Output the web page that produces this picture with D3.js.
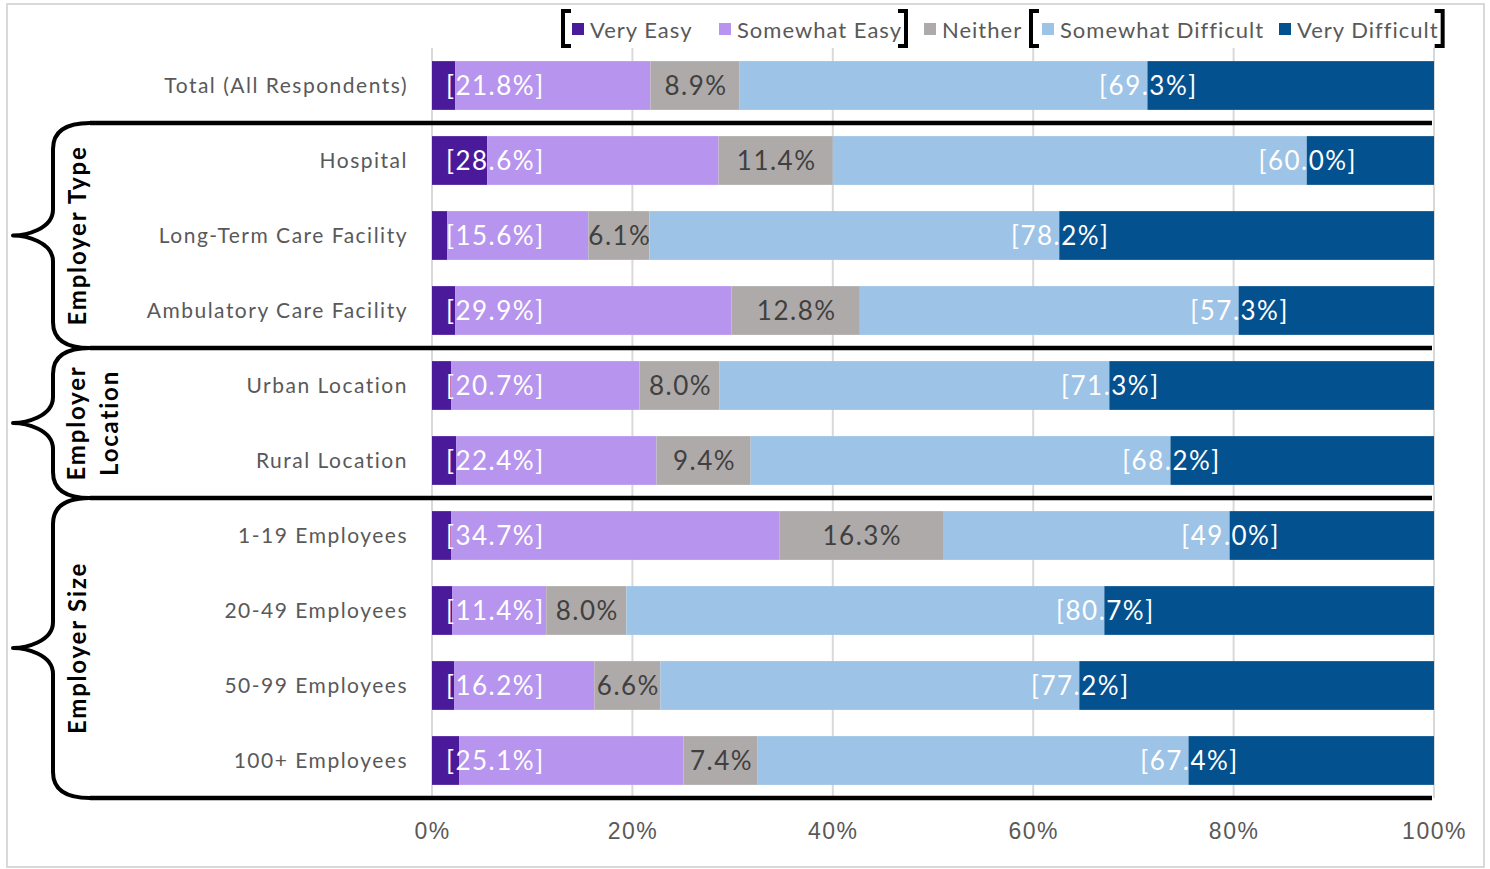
<!DOCTYPE html>
<html>
<head>
<meta charset="utf-8">
<script src="https://cdn.jsdelivr.net/npm/d3@7"></script>
<style>
  body { margin: 0; background: #fff; }
  svg { display: block; font-family: "Century Gothic", Lato, "Noto Sans", sans-serif; }
</style>
</head>
<body>
<svg id="chart" width="1490" height="869"></svg>
<script>
// categories, top to bottom
const categories = [
  "Total (All Respondents)",
  "Hospital", "Long-Term Care Facility", "Ambulatory Care Facility",
  "Urban Location", "Rural Location",
  "1-19 Employees", "20-49 Employees", "50-99 Employees", "100+ Employees"
]

const seriesNames = ["Very Easy", "Somewhat Easy", "Neither", "Somewhat Difficult", "Very Difficult"]
const seriesColors = ["#4b1a9b", "#b795ee", "#aeaaaa", "#9dc3e6", "#03518f"]

// segment values (%)
const veryEasy          = [2.3, 5.5, 1.5, 2.3, 1.9, 2.4, 1.9, 2.0, 2.2, 2.7]
const somewhatEasy      = [19.5, 23.1, 14.1, 27.6, 18.8, 20.0, 32.8, 9.4, 14.0, 22.4]
const neither           = [8.9, 11.4, 6.1, 12.8, 8.0, 9.4, 16.3, 8.0, 6.6, 7.4]
const somewhatDifficult = [40.7, 47.3, 40.9, 37.8, 38.9, 41.9, 28.6, 47.7, 41.8, 43.0]
const veryDifficult     = [28.6, 12.7, 37.4, 19.5, 32.4, 26.3, 20.4, 32.9, 35.4, 24.5]

// combined labels shown in brackets
const easyTotal      = [21.8, 28.6, 15.6, 29.9, 20.7, 22.4, 34.7, 11.4, 16.2, 25.1]
const difficultTotal = [69.3, 60.0, 78.2, 57.3, 71.3, 68.2, 49.0, 80.7, 77.2, 67.4]

const xTicks = [0, 20, 40, 60, 80, 100]

// brace groups
const groupNames   = [["Employer Type"], ["Employer", "Location"], ["Employer Size"]]
const groupFirst   = ["Hospital", "Urban Location", "1-19 Employees"]
const groupLast    = ["Ambulatory Care Facility", "Rural Location", "100+ Employees"]

const svg = d3.select("#chart")

// outer frame
svg.append("rect")
  .attr("x", 7).attr("y", 4).attr("width", 1477).attr("height", 863)
  .attr("fill", "none").attr("stroke", "#d9d9d9").attr("stroke-width", 2)

const x = d3.scaleLinear().domain([0, 100]).range([432, 1434])
const y = d3.scaleBand().domain(categories).range([48, 798])
  .paddingInner(0.35).paddingOuter(0.175)

const rows = categories.map((c, i) => ({
  cat: c,
  "Very Easy": veryEasy[i],
  "Somewhat Easy": somewhatEasy[i],
  "Neither": neither[i],
  "Somewhat Difficult": somewhatDifficult[i],
  "Very Difficult": veryDifficult[i]
}))
const stacked = d3.stack().keys(seriesNames)(rows)

// gridlines
svg.append("g").selectAll("line")
  .data(xTicks)
  .join("line")
    .attr("x1", d => x(d)).attr("x2", d => x(d))
    .attr("y1", 48).attr("y2", 798)
    .attr("stroke", "#d9d9d9").attr("stroke-width", 2)

// bars
svg.append("g").selectAll("g")
  .data(stacked)
  .join("g")
    .attr("fill", (d, i) => seriesColors[i])
  .selectAll("rect")
  .data(d => d)
  .join("rect")
    .attr("x", d => x(d[0]))
    .attr("width", d => x(d[1]) - x(d[0]))
    .attr("y", d => y(d.data.cat))
    .attr("height", y.bandwidth())

// bar labels
const lab = svg.append("g").attr("font-size", 26).attr("letter-spacing", 1.5)
const mid = c => y(c) + y.bandwidth() / 2 + 9

lab.selectAll("text.easy")
  .data(categories)
  .join("text").attr("class", "easy")
    .attr("x", 446).attr("y", mid)
    .attr("fill", "#fff")
    .text((c, i) => `[${easyTotal[i].toFixed(1)}%]`)

lab.selectAll("text.neither")
  .data(stacked[2])
  .join("text").attr("class", "neither")
    .attr("x", d => (x(d[0]) + x(d[1])) / 2 + 1)
    .attr("y", d => mid(d.data.cat))
    .attr("text-anchor", "middle")
    .attr("fill", "#404040")
    .text((d, i) => `${neither[i].toFixed(1)}%`)

lab.selectAll("text.diff")
  .data(stacked[3])
  .join("text").attr("class", "diff")
    .attr("x", d => x(d[1]) + 1)
    .attr("y", d => mid(d.data.cat))
    .attr("text-anchor", "middle")
    .attr("fill", "#fff")
    .text((d, i) => `[${difficultTotal[i].toFixed(1)}%]`)

// category labels
svg.append("g").selectAll("text")
  .data(categories)
  .join("text")
    .attr("x", 408).attr("y", c => y(c) + y.bandwidth() / 2 + 7)
    .attr("text-anchor", "end")
    .attr("font-size", 21).attr("fill", "#595959")
    .attr("letter-spacing", 1.5)
    .text(c => c)

// x axis
const xAxis = svg.append("g")
  .attr("transform", "translate(0,820)")
  .call(d3.axisBottom(x).tickValues(xTicks).tickSize(0).tickFormat(d => d + "%"))
xAxis.select(".domain").remove()
xAxis.selectAll("text")
  .attr("font-family", "inherit").attr("font-size", 23).attr("fill", "#595959")
  .attr("letter-spacing", 1.5)

// separators and braces
const step = y.step()
const gapHalf = (step - y.bandwidth()) / 2
const below = c => y(c) + y.bandwidth() + gapHalf
const above = c => y(c) - gapHalf

const seps = [below(categories[0])].concat(groupLast.map(below))
svg.append("g").selectAll("line")
  .data(seps)
  .join("line")
    .attr("x1", 90).attr("x2", 1432)
    .attr("y1", d => d).attr("y2", d => d)
    .attr("stroke", "#000").attr("stroke-width", 4.5)

const brace = (t, b) => {
  const m = (t + b) / 2, vx = 53, tip = 13
  return `M90,${t} Q${vx},${t} ${vx},${t + 26} L${vx},${m - 26}` +
    ` C${vx},${m - 6} ${tip + 12},${m} ${tip},${m}` +
    ` C${tip + 12},${m} ${vx},${m + 6} ${vx},${m + 26}` +
    ` L${vx},${b - 26} Q${vx},${b} 90,${b}`
}

groupFirst.forEach((g, i) => {
  const t = above(g), b = below(groupLast[i]), m = (t + b) / 2
  svg.append("path")
    .attr("d", brace(t, b))
    .attr("fill", "none").attr("stroke", "#000").attr("stroke-width", 4)
    .attr("stroke-linejoin", "round")
  const lines = groupNames[i]
  const xs = lines.length > 1 ? [85, 118] : [86]
  lines.forEach((ln, j) => {
    svg.append("text")
      .attr("transform", `translate(${xs[j]},${m}) rotate(-90)`)
      .attr("text-anchor", "middle")
      .attr("font-size", 24).attr("font-weight", "bold").attr("fill", "#000")
      .attr("letter-spacing", 1.8)
      .text(ln)
  })
})

// legend
const legX = [590, 737, 942, 1060, 1297]
const leg = svg.append("g")
const legTexts = seriesNames.map((s, i) => {
  leg.append("rect")
    .attr("x", legX[i] - 18).attr("y", 23).attr("width", 12).attr("height", 12)
    .attr("fill", seriesColors[i])
  return leg.append("text")
    .attr("x", legX[i]).attr("y", 38)
    .attr("font-size", 22).attr("fill", "#595959")
    .attr("letter-spacing", 1)
    .text(s)
})
const openBr = bx => leg.append("path")
  .attr("d", `M${bx + 8},11 H${bx} V46 H${bx + 8}`)
  .attr("fill", "none").attr("stroke", "#000").attr("stroke-width", 4)
const closeBr = bx => leg.append("path")
  .attr("d", `M${bx - 8},11 H${bx} V46 H${bx - 8}`)
  .attr("fill", "none").attr("stroke", "#000").attr("stroke-width", 4)

openBr(563)
closeBr(legX[1] + legTexts[1].node().getComputedTextLength() + 4)
openBr(1031)
closeBr(legX[4] + legTexts[4].node().getComputedTextLength() + 4)
</script>
</body>
</html>
